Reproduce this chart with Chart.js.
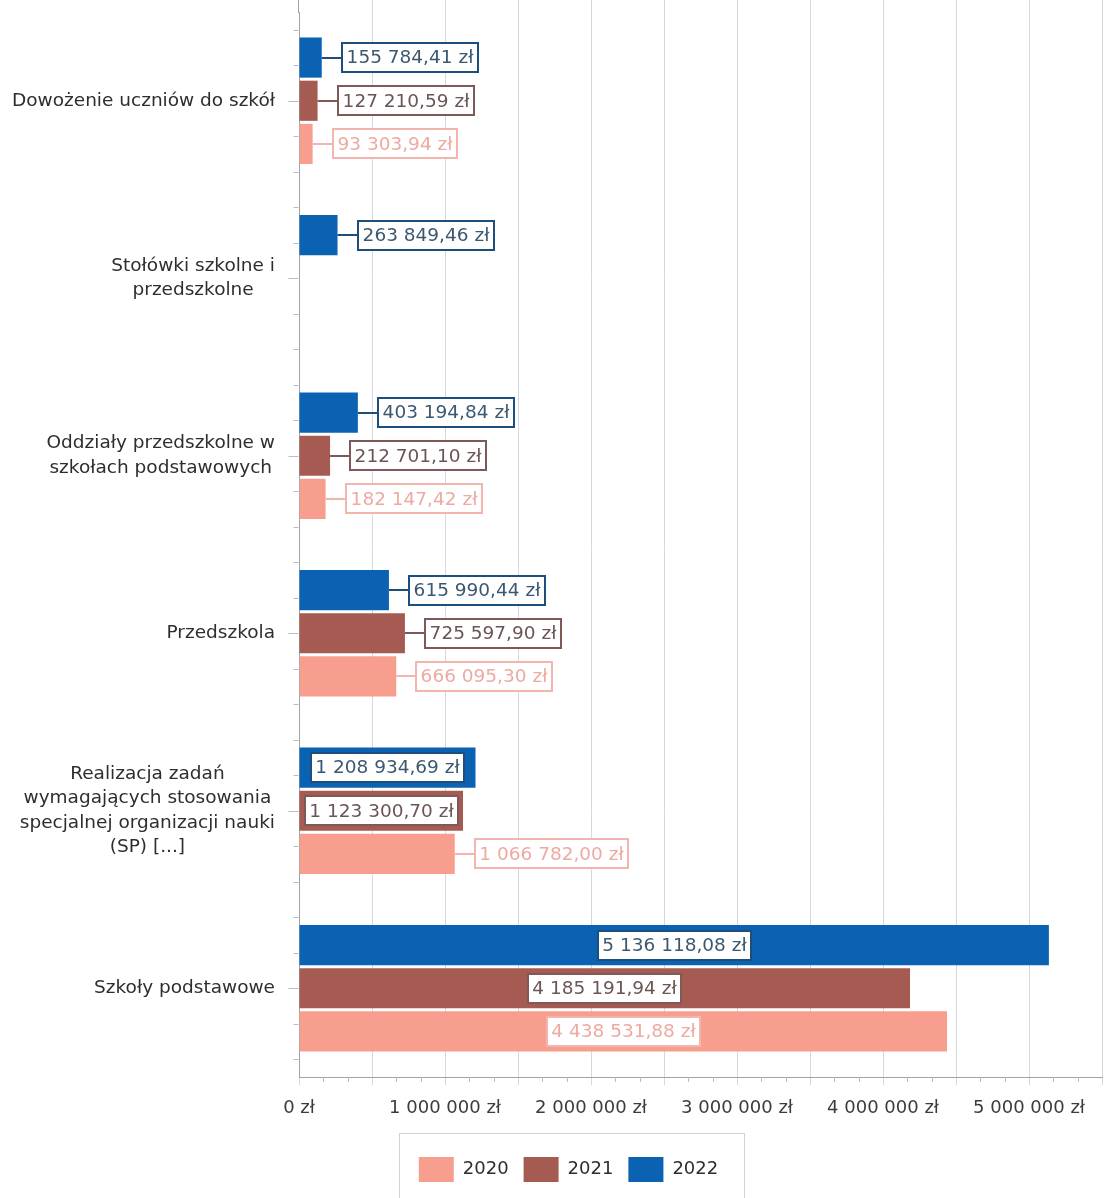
<!DOCTYPE html>
<html>
<head>
<meta charset="utf-8">
<script src="https://cdn.jsdelivr.net/npm/chart.js@4.4.1/dist/chart.umd.min.js"></script>
<style>
  html, body { margin: 0; padding: 0; background: #ffffff; }
  #wrap { width: 1115px; height: 1198px; position: relative; }
</style>
</head>
<body>
<div id="wrap"><canvas id="c" width="1115" height="1198"></canvas></div>
<script>
// Categories, top to bottom
const categories = [
  ['Dowożenie uczniów do szkół'],
  ['Stołówki szkolne i', 'przedszkolne'],
  ['Oddziały przedszkolne w', 'szkołach podstawowych'],
  ['Przedszkola'],
  ['Realizacja zadań', 'wymagających stosowania', 'specjalnej organizacji nauki', '(SP) [...]'],
  ['Szkoły podstawowe']
];

// Spending per year (zł)
const values2022 = [155784.41, 263849.46, 403194.84, 615990.44, 1208934.69, 5136118.08];
const values2021 = [127210.59, null, 212701.10, 725597.90, 1123300.70, 4185191.94];
const values2020 = [93303.94, null, 182147.42, 666095.30, 1066782.00, 4438531.88];

// Value axis
const xMin = 0;
const xMax = 5500000;
const xGridStep = 500000;
const xLabelStep = 1000000;

const FONT = "'DejaVu Sans', 'Noto Sans', sans-serif";

const COLORS = {
  '2022': { fill: '#0b62b3', border: '#1d4e7c', text: '#3b5870' },
  '2021': { fill: '#a65b52', border: '#7d5a57', text: '#6b5555' },
  '2020': { fill: '#f79e8e', border: '#f2b6ae', text: '#eeaaa2' }
};

// Polish number formatting: "1 234 567,89"
function fmt(v, decimals) {
  const parts = Math.abs(v).toFixed(decimals).split('.');
  const intPart = parts[0].replace(/\B(?=(\d{3})+(?!\d))/g, ' ');
  return (v < 0 ? '-' : '') + intPart + (parts.length > 1 ? ',' + parts[1] : '');
}

// Category labels: each block centred on itself, block right-aligned to the axis
const categoryLabelsPlugin = {
  id: 'categoryLabels',
  afterDraw(chart) {
    const ctx = chart.ctx;
    const y = chart.scales.y;
    const lh = 24.5;
    ctx.save();
    ctx.font = '18.5px ' + FONT;
    ctx.fillStyle = '#2e2e2e';
    ctx.textAlign = 'center';
    ctx.textBaseline = 'middle';
    categories.forEach((lines, i) => {
      const cy = y.getPixelForValue(i);
      const widest = Math.max(...lines.map(l => ctx.measureText(l).width));
      const cx = y.right - 24 - widest / 2;
      lines.forEach((line, k) => {
        ctx.fillText(line, cx, cy - (lines.length - 1) * lh / 2 + k * lh);
      });
    });
    ctx.restore();
  }
};

// Tick marks on both axes and grid lines carried to the top edge
const tickMarksPlugin = {
  id: 'tickMarks',
  beforeDatasetsDraw(chart) {
    const ctx = chart.ctx;
    const xs = chart.scales.x;
    const ys = chart.scales.y;
    const area = chart.chartArea;
    ctx.save();
    ctx.lineWidth = 1;
    // grid lines above the plot area
    ctx.strokeStyle = '#d3d9e3';
    for (let v = xMin + xGridStep; v <= xMax; v += xGridStep) {
      const px = Math.round(xs.getPixelForValue(v)) + 0.5;
      ctx.beginPath(); ctx.moveTo(px, 0); ctx.lineTo(px, area.top + 1); ctx.stroke();
    }
    ctx.strokeStyle = '#9ea3aa';
    const ax = Math.round(area.left) - 0.5;
    ctx.beginPath(); ctx.moveTo(ax, 0); ctx.lineTo(ax, area.top + 1); ctx.stroke();
    // minor ticks under the value axis
    ctx.strokeStyle = '#b9bec6';
    const minor = xGridStep / 3;
    for (let k = 1; xMin + k * minor < xMax; k++) {
      if (k % 3 === 0) continue;
      const px = Math.round(xs.getPixelForValue(xMin + k * minor)) + 0.5;
      ctx.beginPath(); ctx.moveTo(px, area.bottom); ctx.lineTo(px, area.bottom + 5); ctx.stroke();
    }
    // category axis ticks: long at category centres, short between
    const band = Math.abs(ys.getPixelForValue(1) - ys.getPixelForValue(0));
    const step = band / 5;
    const first = ys.getPixelForValue(0);
    for (let k = -2; first + k * step <= area.bottom; k++) {
      const py = Math.round(first + k * step) + 0.5;
      if (py < 0) continue;
      const len = (k % 5 === 0) ? 10 : 5;
      ctx.beginPath(); ctx.moveTo(ax - len, py); ctx.lineTo(ax, py); ctx.stroke();
    }
    ctx.restore();
  }
};

// Value callouts: inside the bar when it fits, otherwise to the right with a leader line
const valueLabelsPlugin = {
  id: 'valueLabels',
  afterDatasetsDraw(chart) {
    const ctx = chart.ctx;
    ctx.save();
    ctx.font = '18.5px ' + FONT;
    ctx.textAlign = 'center';
    ctx.textBaseline = 'middle';
    chart.data.datasets.forEach((ds, di) => {
      const meta = chart.getDatasetMeta(di);
      const style = COLORS[ds.label];
      meta.data.forEach((bar, i) => {
        const v = ds.data[i];
        if (v == null) return;
        const text = fmt(v, 2) + ' zł';
        const tw = ctx.measureText(text).width;
        const bw = Math.round(tw + 9);
        const bh = 29;
        const left = Math.min(bar.base, bar.x);
        const right = Math.max(bar.base, bar.x);
        let bx;
        if (bw + 6 <= right - left) {
          bx = Math.round((left + right) / 2 - bw / 2);
        } else {
          bx = Math.round(right + 20);
          ctx.strokeStyle = style.border;
          ctx.lineWidth = 2;
          ctx.beginPath();
          ctx.moveTo(right, Math.round(bar.y));
          ctx.lineTo(bx, Math.round(bar.y));
          ctx.stroke();
        }
        const by = Math.round(bar.y - bh / 2);
        ctx.fillStyle = '#ffffff';
        ctx.fillRect(bx, by, bw, bh);
        ctx.strokeStyle = style.border;
        ctx.lineWidth = 2;
        ctx.strokeRect(bx, by, bw, bh);
        ctx.fillStyle = style.text;
        ctx.fillText(text, bx + bw / 2, bar.y + 1);
      });
    });
    ctx.restore();
  }
};

// Frame around the legend
const legendFramePlugin = {
  id: 'legendFrame',
  afterDraw(chart) {
    const lg = chart.legend;
    if (!lg || !lg.legendHitBoxes || !lg.legendHitBoxes.length) return;
    const boxes = lg.legendHitBoxes;
    const l = Math.min(...boxes.map(b => b.left)) - 20;
    const r = Math.max(...boxes.map(b => b.left + b.width)) + 26;
    const t = lg.top - 9;
    const ctx = chart.ctx;
    ctx.save();
    ctx.strokeStyle = '#d2d4d8';
    ctx.lineWidth = 1;
    ctx.strokeRect(Math.round(l) + 0.5, Math.round(t) + 0.5, Math.round(r - l), chart.height - t + 10);
    ctx.restore();
  }
};

const makeSet = (label, data) => ({
  label,
  data,
  backgroundColor: COLORS[label].fill,
  borderWidth: 0,
  categoryPercentage: 0.73,
  barPercentage: 0.93
});

new Chart(document.getElementById('c'), {
  type: 'bar',
  data: {
    labels: categories.map(c => c.join(' ')),
    datasets: [
      makeSet('2022', values2022),
      makeSet('2021', values2021),
      makeSet('2020', values2020)
    ]
  },
  options: {
    indexAxis: 'y',
    responsive: false,
    animation: false,
    devicePixelRatio: 1,
    layout: { padding: { top: 12, right: 10, bottom: 6, left: 32 } },
    scales: {
      x: {
        type: 'linear',
        min: xMin,
        max: xMax,
        ticks: {
          stepSize: xGridStep,
          autoSkip: false,
          maxRotation: 0,
          padding: 13,
          color: '#3c3c3c',
          font: { size: 18, family: FONT },
          callback: v => (v % xLabelStep === 0 ? fmt(v, 0) + ' zł' : '')
        },
        grid: { color: '#d3d9e3', lineWidth: 1, tickLength: 8 },
        border: { color: '#9ea3aa', width: 1 },
        afterFit: s => { s.height = 65; }
      },
      y: {
        type: 'category',
        ticks: { display: false },
        grid: { display: false },
        border: { color: '#9ea3aa', width: 1 },
        afterFit: s => { s.width = 267; }
      }
    },
    plugins: {
      legend: {
        position: 'bottom',
        reverse: true,
        labels: {
          boxWidth: 35,
          boxHeight: 25,
          padding: 15,
          color: '#2e2e2e',
          font: { size: 18, family: FONT }
        }
      },
      tooltip: { enabled: false }
    }
  },
  plugins: [tickMarksPlugin, valueLabelsPlugin, categoryLabelsPlugin, legendFramePlugin]
});
</script>
</body>
</html>
